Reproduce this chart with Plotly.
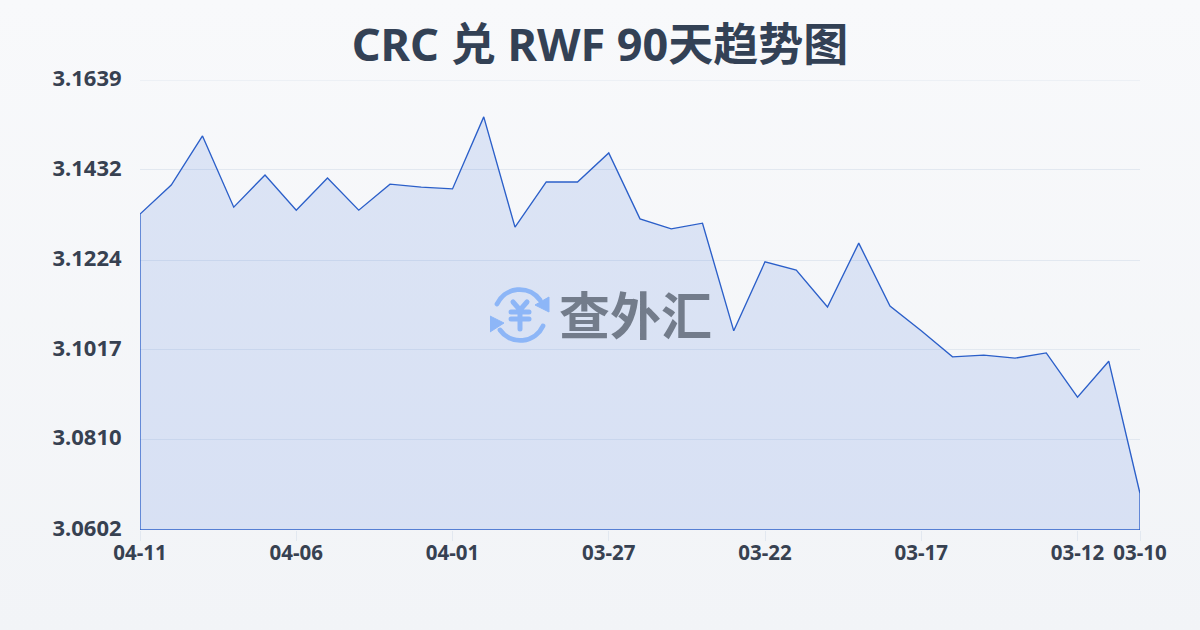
import base64
import plotly.graph_objects as go

dates = ["04-11","04-10","04-09","04-08","04-07","04-06","04-05","04-04","04-03","04-02","04-01",
         "03-31","03-30","03-29","03-28","03-27","03-26","03-25","03-24","03-23","03-22","03-21",
         "03-20","03-19","03-18","03-17","03-16","03-15","03-14","03-13","03-12","03-11","03-10"]
rates = [3.1330,3.1397,3.1510,3.1346,3.1420,3.1339,3.1413,3.1339,3.1399,3.1392,3.1388,
         3.1554,3.1300,3.1404,3.1404,3.1471,3.1319,3.1296,3.1309,3.1061,3.1220,3.1201,
         3.1116,3.1263,3.1118,3.1061,3.1001,3.1005,3.0998,3.1010,3.0908,3.0991,3.0686]
y_ticks = [3.0602,3.0810,3.1017,3.1224,3.1432,3.1639]
x_ticks = ["04-11","04-06","04-01","03-27","03-22","03-17","03-12","03-10"]
y_min, y_max = y_ticks[0], y_ticks[-1]
title = "CRC 兑 RWF 90天趋势图"
TXT = "#374151"

bg_svg = """<svg xmlns='http://www.w3.org/2000/svg' width='1200' height='630'><defs><linearGradient id='g' x1='0' y1='0' x2='0' y2='1'><stop offset='0' stop-color='#f8f9fb'/><stop offset='1' stop-color='#f2f4f7'/></linearGradient></defs><rect width='1200' height='630' fill='url(#g)'/></svg>"""
icon_svg = """<svg xmlns='http://www.w3.org/2000/svg' viewBox='0 0 60 60' width='60' height='60'><g fill='none' stroke='#8db6f7' stroke-width='4.8' stroke-linecap='round'><path d='M7 19 A25 25 0 0 1 50 15'/><path d='M53 41 A25 25 0 0 1 10 45'/><path d='M23 17 L30 25 L37 17 M21 27 H39 M21 34 H39 M30 25 V44' stroke-width='5'/></g><path d='M45 20 L59 12 L59 27 Z M0 31 L0 47 L14 38 Z' fill='#8db6f7' stroke='#8db6f7' stroke-linejoin='round'/></svg>"""
uri = lambda s: "data:image/svg+xml;base64," + base64.b64encode(s.encode()).decode()

xs = [dates[0]] + dates + [dates[-1], dates[0]]
ys = [y_min] + rates + [y_min, y_min]

fig = go.Figure(go.Scatter(x=xs, y=ys, mode="lines", fill="toself", cliponaxis=False,
                           fillcolor="rgba(37,90,215,0.13)",
                           line=dict(color="#2b5fc9", width=1.35), hoverinfo="skip"))
fig.update_layout(
    width=1200, height=630, margin=dict(l=140, r=60, t=80, b=100),
    paper_bgcolor="#f5f7fa", plot_bgcolor="rgba(0,0,0,0)", showlegend=False,
    font=dict(family="Noto Sans, Noto Sans CJK SC, sans-serif", color=TXT),
    title=dict(text="<b>"+title+"</b>", x=0.5, xanchor="center", y=0.928, yanchor="middle",
               font=dict(size=45, color="#334155", family="Noto Sans, Noto Sans CJK SC, sans-serif")),
    xaxis=dict(type="category", categoryorder="array", categoryarray=dates, range=[0, len(dates)-1],
               tickmode="array", tickvals=x_ticks, ticktext=["<b>"+t+"</b>" for t in x_ticks],
               ticks="outside", ticklen=10, tickcolor="#e2e8f0", tickwidth=1, showgrid=False,
               ticklabelstandoff=-6,
               showline=False, zeroline=False, tickfont=dict(size=20.5, color=TXT)),
    yaxis=dict(range=[y_min, y_max], tickmode="array", tickvals=y_ticks,
               ticktext=["<b>%.4f</b>" % t for t in y_ticks], ticks="outside", ticklen=13,
               ticklabelshift=-2,
               tickcolor="rgba(0,0,0,0)", gridcolor="#e2e8f0", gridwidth=1, showline=False, zeroline=False,
               tickfont=dict(size=22, color=TXT)),
    shapes=[dict(type="line", xref="paper", x0=0, x1=1, yref="y", y0=y_max, y1=y_max,
                 line=dict(color="#e2e8f0", width=1), layer="below")],
    images=[
        dict(source=uri(bg_svg), xref="paper", yref="paper", x=-140/1000, y=1+80/450, sizex=1.2, sizey=1.4,
             sizing="stretch", layer="below", xanchor="left", yanchor="top"),
        dict(source=uri(icon_svg), xref="paper", yref="paper", x=350/1000, y=1-205/450, sizex=0.06, sizey=60/450,
             sizing="stretch", layer="above", xanchor="left", yanchor="top"),
    ],
    annotations=[dict(text="<b>查外汇</b>", xref="paper", yref="paper", x=0.4955, y=1-233/450,
                      xanchor="center", yanchor="middle", showarrow=False,
                      font=dict(size=51, color="rgba(75,85,99,0.72)", family="Noto Sans CJK SC", weight=900))],
)
fig.write_html("out.html", config={"displayModeBar": False},
               post_script="document.body.style.margin='0';document.body.style.overflow='hidden';")
